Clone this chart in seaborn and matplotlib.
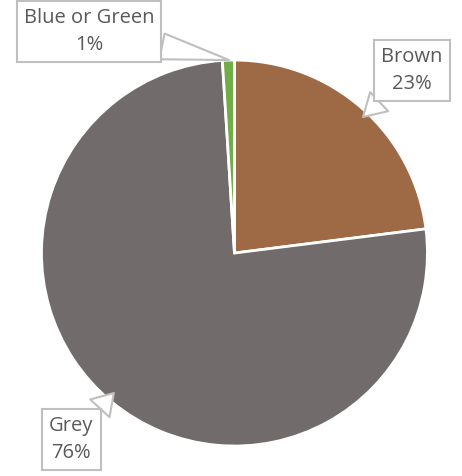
import matplotlib
matplotlib.use("Agg")
import matplotlib.pyplot as plt
import seaborn as sns

sns.set_theme(style="white")
plt.rcParams['font.family'] = ['Open Sans', 'DejaVu Sans']

categories = ["Brown", "Grey", "Blue or Green"]
values = [23, 76, 1]
colors = ["#9E6A46", "#716C6B", "#70AD47"]

fig = plt.figure(figsize=(4.62, 4.76), dpi=100)
ax = fig.add_axes([0, 0, 1, 1])
ax.pie(values, colors=colors, startangle=90, counterclock=False,
       wedgeprops=dict(edgecolor="white", linewidth=2))
ax.set_xlim(-1.215, 1.179)
ax.set_ylim(-1.155, 1.311)
ax.set_aspect("equal")
ax.axis("off")

text_pos = [(0.920, 0.946), (-0.845, -0.966), (-0.754, 1.148)]
tip_pos = [(0.666, 0.705), (-0.625, -0.725), (-0.028, 1.0)]
for cat, v, tp, xy in zip(categories, values, text_pos, tip_pos):
    ax.annotate(f"{cat}\n{v}%", xy=xy, xytext=tp, ha="center", va="center",
                fontsize=14.5, color="#595959", linespacing=1.45,
                bbox=dict(boxstyle="square,pad=0.35", fc="white", ec="#BFBFBF", lw=1.5),
                arrowprops=dict(arrowstyle="wedge,tail_width=1.3,shrink_factor=0.5",
                                fc="white", ec="#BFBFBF", lw=1.5,
                                shrinkA=0, shrinkB=0))

fig.savefig("out.png", dpi=100)
